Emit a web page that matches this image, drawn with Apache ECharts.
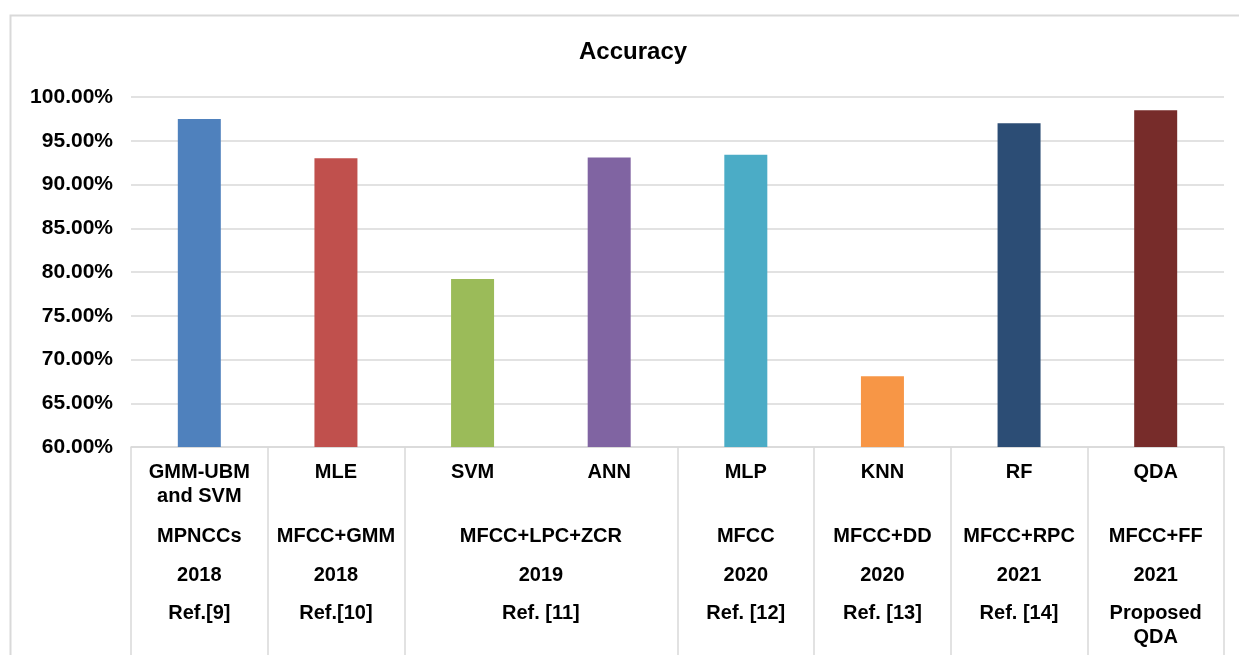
<!DOCTYPE html>
<html>
<head>
<meta charset="utf-8">
<script src="https://cdn.jsdelivr.net/npm/echarts@6/dist/echarts.min.js"></script>
<style>
html,body{margin:0;padding:0;background:#fff;}
#chart{width:1239px;height:655px;}
</style>
</head>
<body>
<div id="chart"></div>
<script>
// ---- data ----
const models = ['GMM-UBM\nand SVM', 'MLE', 'SVM', 'ANN', 'MLP', 'KNN', 'RF', 'QDA'];
const accuracy = [97.5, 93.0, 79.2, 93.1, 93.4, 68.1, 97.0, 98.5];
const groupSpans = [1, 1, 2, 1, 1, 1, 1];
const features = ['MPNCCs', 'MFCC+GMM', 'MFCC+LPC+ZCR', 'MFCC', 'MFCC+DD', 'MFCC+RPC', 'MFCC+FF'];
const years = ['2018', '2018', '2019', '2020', '2020', '2021', '2021'];
const refs = ['Ref.[9]', 'Ref.[10]', 'Ref. [11]', 'Ref. [12]', 'Ref. [13]', 'Ref. [14]', 'Proposed\nQDA'];
const yTicks = [60, 65, 70, 75, 80, 85, 90, 95, 100];
const barColors = ['#4F81BD', '#C0504D', '#9BBB59', '#8064A2', '#4BACC6', '#F79646', '#2C4D75', '#772C2A'];

// group boundaries and centres (in category units)
const bounds = [0];
groupSpans.forEach(s => bounds.push(bounds[bounds.length - 1] + s));
const centres = groupSpans.map((s, i) => bounds[i] + s / 2);
function rowFormatter(labels) {
  return function (v) {
    const i = centres.findIndex(c => Math.abs(c - v) < 1e-6);
    return i >= 0 ? labels[i] : '';
  };
}

const FONT = 'Liberation Sans, Arial, sans-serif';
const GRID_COLOR = '#d9d9d9';
const labelBase = { color: '#000', fontWeight: 'bold', fontSize: 20, fontFamily: FONT, lineHeight: 24 };

function rowAxis(labels, margin, withTicks) {
  return {
    type: 'value', gridIndex: 0, position: 'bottom', min: 0, max: models.length,
    axisLine: { show: false },
    splitLine: { show: false },
    axisTick: withTicks ? {
      show: true, customValues: bounds, length: 208,
      lineStyle: { color: GRID_COLOR, width: 1.5 }
    } : { show: false },
    axisLabel: Object.assign({}, labelBase, {
      customValues: centres, margin: margin, formatter: rowFormatter(labels),
      showMinLabel: true, showMaxLabel: true, hideOverlap: false
    })
  };
}

const chart = echarts.init(document.getElementById('chart'), null, { renderer: 'canvas' });
chart.setOption({
  animation: false,
  backgroundColor: '#fff',
  color: barColors,
  title: {
    text: 'Accuracy', left: 574, top: 35,
    textStyle: { fontSize: 24, fontWeight: 'bold', fontFamily: FONT, color: '#000' }
  },
  graphic: [{
    type: 'rect', left: 8, top: 13, z: -1,
    shape: { width: 1300, height: 700 },
    style: { fill: 'none', stroke: GRID_COLOR, lineWidth: 2 }
  }],
  grid: { left: 131, right: 15, top: 97, bottom: 208, containLabel: false },
  xAxis: [
    {
      type: 'category', gridIndex: 0, data: models,
      axisLine: { show: true, lineStyle: { color: GRID_COLOR, width: 1.5 } },
      axisTick: { show: false },
      axisLabel: Object.assign({}, labelBase, { margin: 13, interval: 0 }),
      splitLine: { show: false }
    },
    rowAxis(features, 77, true),
    rowAxis(years, 116, false),
    rowAxis(refs, 154, false)
  ],
  yAxis: {
    type: 'value', min: yTicks[0], max: yTicks[yTicks.length - 1], interval: 5,
    axisLine: { show: false }, axisTick: { show: false },
    axisLabel: Object.assign({}, labelBase, { fontSize: 21, margin: 18, formatter: v => v.toFixed(2) + '%' }),
    splitLine: { lineStyle: { color: GRID_COLOR, width: 1.5 } }
  },
  series: [{
    type: 'bar', xAxisIndex: 0, yAxisIndex: 0, data: accuracy,
    colorBy: 'data', barWidth: 43
  }]
});
</script>
</body>
</html>
